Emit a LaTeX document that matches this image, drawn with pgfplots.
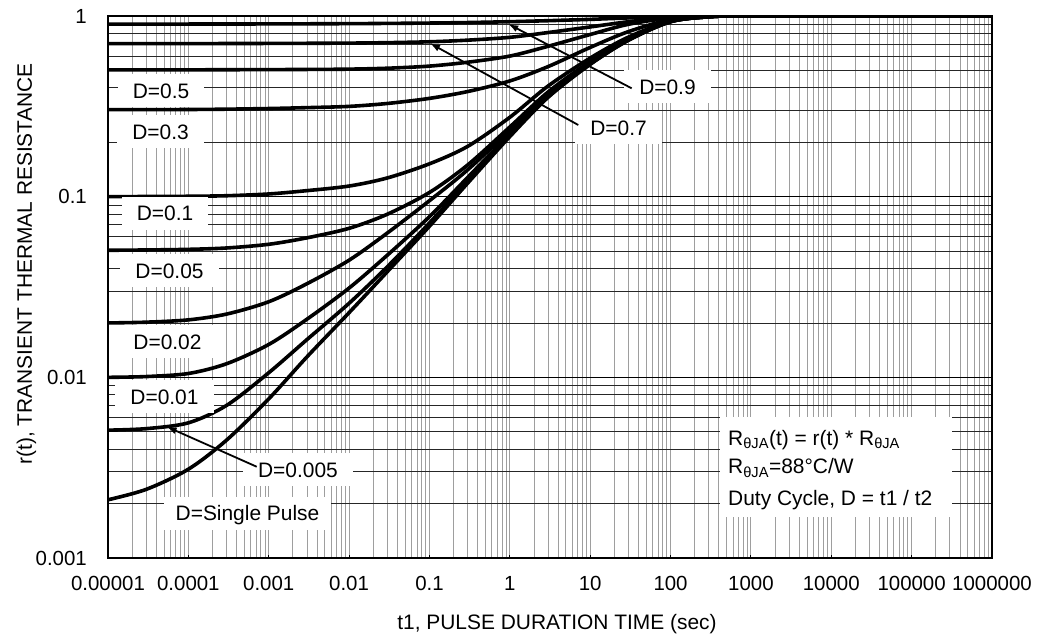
\documentclass[border=0pt]{standalone}
\usepackage{pgfplots}
\pgfplotsset{compat=1.18}
\usepackage{fontspec}
\setmainfont{Liberation Sans}
\usetikzlibrary{arrows.meta}
\tikzset{lab/.style={fill=white, inner xsep=15bp, inner ysep=9bp, text height=15bp, text depth=0bp,
              font=\fontsize{21}{25}\selectfont},
         curve/.style={black, solid, line width=3.6bp, smooth, mark=none}}

\begin{document}
\begin{tikzpicture}
\useasboundingbox (0,0) rectangle (1041bp,638bp);
\begin{axis}[
  at={(108bp,80bp)}, anchor=south west,
  scale only axis, width=884bp, height=542bp,
  xmode=log, ymode=log,
  xmin=1e-5, xmax=1e6, ymin=1e-3, ymax=1,
  xtick={1e-5,1e-4,1e-3,1e-2,1e-1,1,10,100,1000,10000,100000,1000000},
  xticklabels={0.00001,0.0001,0.001,0.01,0.1,1,10,100,1000,10000,100000,1000000},
  ytick={0.001,0.01,0.1,1},
  yticklabels={0.001,0.01,0.1,1},
  minor xtick={2e-5,3e-5,4e-5,5e-5,6e-5,7e-5,8e-5,9e-5,
               2e-4,3e-4,4e-4,5e-4,6e-4,7e-4,8e-4,9e-4,
               2e-3,3e-3,4e-3,5e-3,6e-3,7e-3,8e-3,9e-3,
               0.02,0.03,0.04,0.05,0.06,0.07,0.08,0.09,
               0.2,0.3,0.4,0.5,0.6,0.7,0.8,0.9,
               2,3,4,5,6,7,8,9,
               20,30,40,50,60,70,80,90,
               200,300,400,500,600,700,800,900,
               2000,3000,4000,5000,6000,7000,8000,9000,
               20000,30000,40000,50000,60000,70000,80000,90000,
               200000,300000,400000,500000,600000,700000,800000,900000},
  minor ytick={0.002,0.003,0.004,0.005,0.006,0.007,0.008,0.009,
               0.02,0.03,0.04,0.05,0.06,0.07,0.08,0.09,
               0.2,0.3,0.4,0.5,0.6,0.7,0.8,0.9},
  grid=both,
  major x grid style={black!38, line width=1bp},
  minor x grid style={black!38, line width=1bp},
  major y grid style={black, line width=0.8bp},
  minor y grid style={black!85, line width=0.8bp},
  axis line style={black, line width=1.2bp},
  tick align=inside, xtick pos=bottom, ytick pos=left,
  major tick length=3bp, minor tick length=0bp,
  tick style={black, line width=1bp},
  xticklabel style={anchor=base, yshift=-32bp, font=\fontsize{20.5}{24}\selectfont},
  yticklabel style={anchor=east, inner sep=0pt, xshift=-21bp, font=\fontsize{20.5}{24}\selectfont},
  xlabel={t1, PULSE DURATION TIME (sec)},
  ylabel={r(t), TRANSIENT THERMAL RESISTANCE},
  xlabel style={at={(rel axis cs:0.5079,-0.1314)}, anchor=base, font=\fontsize{21}{25}\selectfont},
  ylabel style={at={(rel axis cs:-0.0860,0.5424)}, anchor=base, font=\fontsize{21}{25}\selectfont},
]
% Single pulse
\addplot[curve] coordinates {(1e-5,0.0021) (3e-5,0.0024) (1e-4,0.0031) (3e-4,0.0045) (1e-3,0.0076)
 (3e-3,0.0130) (0.01,0.0228) (0.03,0.0385) (0.1,0.0686) (0.3,0.119) (1,0.215) (3,0.355)
 (10,0.54) (30,0.735) (100,0.93) (300,0.99) (1000,1.0) (1e6,1.0)};
% D=0.005
\addplot[curve] coordinates {(1e-5,0.0051) (3e-5,0.0052) (1e-4,0.0056) (3e-4,0.0070) (1e-3,0.0106)
 (3e-3,0.0162) (0.01,0.0257) (0.03,0.041) (0.1,0.0715) (0.3,0.123) (1,0.219) (3,0.358)
 (10,0.542) (30,0.736) (100,0.93) (300,0.99) (1000,1.0) (1e6,1.0)};
% D=0.01
\addplot[curve] coordinates {(1e-5,0.0100) (3e-5,0.0101) (1e-4,0.0105) (3e-4,0.0119) (1e-3,0.0152)
 (3e-3,0.0210) (0.01,0.0312) (0.03,0.0475) (0.1,0.0775) (0.3,0.128) (1,0.223) (3,0.362)
 (10,0.545) (30,0.738) (100,0.931) (300,0.99) (1000,1.0) (1e6,1.0)};
% D=0.02
\addplot[curve] coordinates {(1e-5,0.0200) (3e-5,0.0202) (1e-4,0.0208) (3e-4,0.0224) (1e-3,0.0262)
 (3e-3,0.0330) (0.01,0.0445) (0.03,0.0630) (0.1,0.095) (0.3,0.141) (1,0.233) (3,0.37)
 (10,0.55) (30,0.741) (100,0.932) (300,0.99) (1000,1.0) (1e6,1.0)};
% D=0.05
\addplot[curve] coordinates {(1e-5,0.0505) (3e-5,0.0507) (1e-4,0.0511) (3e-4,0.0520) (1e-3,0.0545)
 (3e-3,0.0592) (0.01,0.0668) (0.03,0.0800) (0.1,0.1055) (0.3,0.150) (1,0.243) (3,0.38)
 (10,0.56) (30,0.745) (100,0.933) (300,0.99) (1000,1.0) (1e6,1.0)};
% D=0.1
\addplot[curve] coordinates {(1e-5,0.100) (3e-5,0.1002) (1e-4,0.1005) (3e-4,0.1012) (1e-3,0.1035)
 (3e-3,0.108) (0.01,0.1145) (0.03,0.127) (0.1,0.152) (0.3,0.19) (1,0.275) (3,0.41)
 (10,0.585) (30,0.765) (100,0.937) (300,0.991) (1000,1.0) (1e6,1.0)};
% D=0.3
\addplot[curve] coordinates {(1e-5,0.303) (3e-5,0.3032) (1e-4,0.3037) (3e-4,0.305) (1e-3,0.3075)
 (3e-3,0.311) (0.01,0.316) (0.03,0.328) (0.1,0.350) (0.3,0.382) (1,0.437) (3,0.525)
 (10,0.67) (30,0.82) (100,0.955) (300,0.994) (1000,1.0) (1e6,1.0)};
% D=0.5
\addplot[curve] coordinates {(1e-5,0.503) (1e-4,0.5035) (1e-3,0.505) (3e-3,0.506) (0.01,0.508)
 (0.03,0.514) (0.1,0.528) (0.3,0.555) (1,0.60) (3,0.68) (10,0.79) (30,0.90) (100,0.975)
 (300,0.996) (1000,1.0) (1e6,1.0)};
% D=0.7
\addplot[curve] coordinates {(1e-5,0.703) (1e-4,0.7035) (1e-3,0.705) (0.01,0.708) (0.03,0.712)
 (0.1,0.72) (0.3,0.735) (1,0.762) (3,0.81) (10,0.87) (30,0.93) (100,0.98) (300,0.997)
 (1000,1.0) (1e6,1.0)};
% D=0.9
\addplot[curve] coordinates {(1e-5,0.902) (1e-4,0.9025) (1e-3,0.904) (0.01,0.907) (0.03,0.91)
 (0.1,0.914) (0.3,0.92) (1,0.93) (3,0.942) (10,0.958) (30,0.976) (100,0.992) (300,0.999)
 (1000,1.0) (1e6,1.0)};

% labels
\node[lab] at (rel axis cs:0.0600,0.8622) {D=0.5};
\node[lab] at (rel axis cs:0.0594,0.7860) {D=0.3};
\node[lab] at (rel axis cs:0.0645,0.6365) {D=0.1};
\node[lab] at (rel axis cs:0.0696,0.5300) {D=0.05};
\node[lab] at (rel axis cs:0.0673,0.3990) {D=0.02};
\node[lab] at (rel axis cs:0.0639,0.2976) {D=0.01};
\node[lab] at (rel axis cs:0.2149,0.1624) {D=0.005};
\node[lab, inner xsep=12bp] at (rel axis cs:0.1578,0.0825) {D=Single Pulse};
\node[lab] at (rel axis cs:0.6329,0.8696) {D=0.9};
\node[lab] at (rel axis cs:0.5775,0.7939) {D=0.7};

% arrows
\draw[black, line width=1.8bp, -{Latex[length=10bp,width=7bp]}] (rel axis cs:0.5924,0.8666) -- (rel axis cs:0.4528,0.9852);
\draw[black, line width=1.8bp, -{Latex[length=10bp,width=7bp]}] (rel axis cs:0.5320,0.7989) -- (rel axis cs:0.3643,0.9496);
\draw[black, line width=1.8bp, -{Latex[length=10bp,width=7bp]}] (rel axis cs:0.1682,0.1684) -- (rel axis cs:0.0664,0.2423);

% annotation box
\fill[white] (rel axis cs:0.6923,0.0756) rectangle (rel axis cs:0.9548,0.2601);
\node[anchor=base west, inner sep=0pt, font=\fontsize{21}{25}\selectfont] at (rel axis cs:0.7014,0.2085)
  {R\textsubscript{θJA}(t) = r(t) * R\textsubscript{θJA}};
\node[anchor=base west, inner sep=0pt, font=\fontsize{21}{25}\selectfont] at (rel axis cs:0.7014,0.1550)
  {R\textsubscript{θJA}=88°C/W};
\node[anchor=base west, inner sep=0pt, font=\fontsize{21}{25}\selectfont] at (rel axis cs:0.7014,0.0978)
  {Duty Cycle, D = t1 / t2};
\end{axis}
\end{tikzpicture}
\end{document}
